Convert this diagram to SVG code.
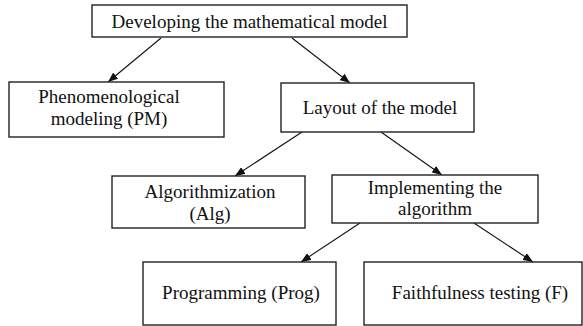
<svg xmlns="http://www.w3.org/2000/svg" width="583" height="326" viewBox="0 0 583 326">
<style>
.box{fill:#fff;stroke:#222;stroke-width:1.4}
.t{font-family:'Liberation Serif','Times New Roman','DejaVu Serif',serif;font-size:19px;fill:#111;text-anchor:middle}
.c{stroke:#111;stroke-width:1.1;fill:none;marker-end:url(#ah)}
</style>
<defs>
<marker id="ah" viewBox="0 0 10 8" refX="10" refY="4" markerWidth="10" markerHeight="8" markerUnits="userSpaceOnUse" orient="auto">
<path d="M0,0 L10,4 L0,8 Z" fill="#111"/>
</marker>
</defs>
<g id="connectors">
<line class="c" x1="161" y1="38" x2="108" y2="82"/>
<line class="c" x1="292" y1="38" x2="350" y2="83"/>
<line class="c" x1="302" y1="132" x2="235" y2="176"/>
<line class="c" x1="381" y1="132" x2="442" y2="175"/>
<line class="c" x1="360" y1="223" x2="301" y2="262"/>
<line class="c" x1="474" y1="223" x2="533" y2="262"/>
</g>
<g id="top">
<rect class="box" x="92" y="5" width="315" height="32"/>
<text class="t" x="249.5" y="28">Developing the mathematical model</text>
</g>
<g id="pm">
<rect class="box" x="9" y="82" width="215" height="55"/>
<text class="t" x="109" y="103">Phenomenological</text>
<text class="t" x="109" y="125">modeling (PM)</text>
</g>
<g id="layout">
<rect class="box" x="281" y="83" width="193" height="49"/>
<text class="t" x="380" y="114">Layout of the model</text>
</g>
<g id="alg">
<rect class="box" x="112" y="176" width="193" height="52"/>
<text class="t" x="210" y="198">Algorithmization</text>
<text class="t" x="210" y="220">(Alg)</text>
</g>
<g id="impl">
<rect class="box" x="332" y="175" width="206" height="48"/>
<text class="t" x="435" y="194">Implementing the</text>
<text class="t" x="435" y="215">algorithm</text>
</g>
<g id="prog">
<rect class="box" x="143" y="262" width="193" height="63"/>
<text class="t" x="241" y="299">Programming (Prog)</text>
</g>
<g id="faith">
<rect class="box" x="364" y="262" width="218" height="63"/>
<text class="t" x="480" y="299">Faithfulness testing (F)</text>
</g>
</svg>
